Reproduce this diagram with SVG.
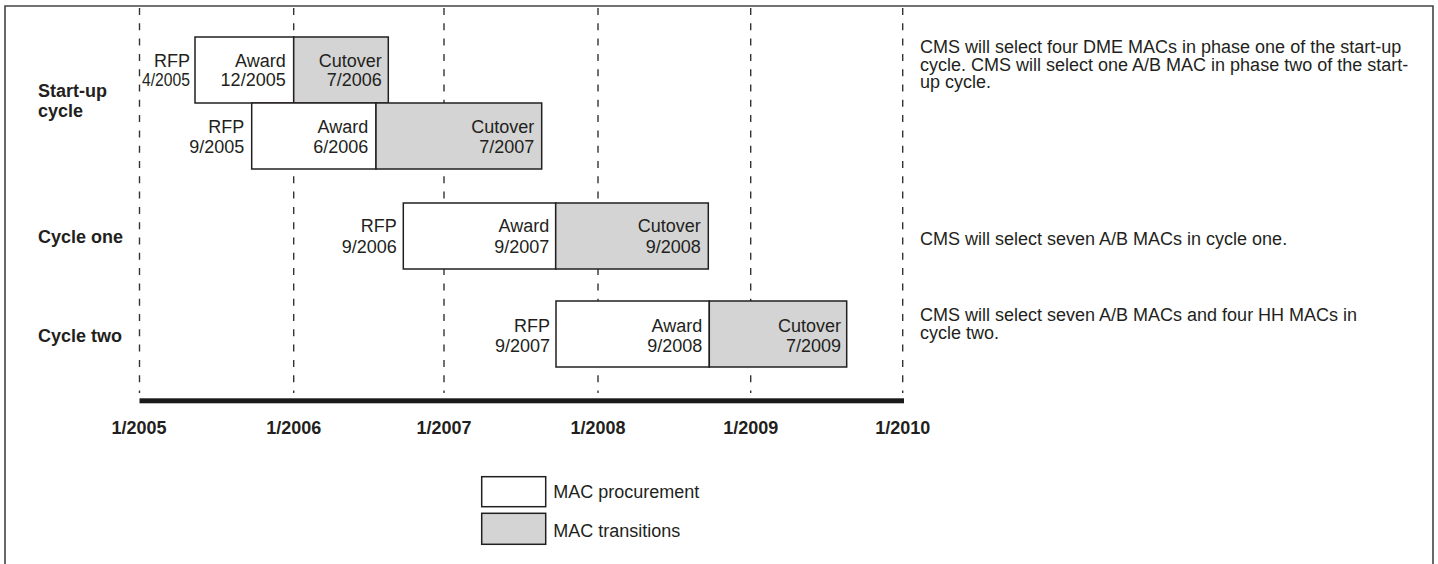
<svg xmlns="http://www.w3.org/2000/svg" width="1438" height="564" viewBox="0 0 1438 564">
<style>
text{font-family:"Liberation Sans",Arial,Helvetica,sans-serif;fill:#231f20;font-size:18px}
.b{font-weight:bold}
.r{text-anchor:end}
.m{text-anchor:middle}
.proc{fill:#fff;stroke:#231f20;stroke-width:1.5}
.tran{fill:#d4d4d4;stroke:#231f20;stroke-width:1.5}
.grid{stroke:#333;stroke-width:1.4;stroke-dasharray:7 8.3;fill:none}
</style>
<rect width="1438" height="564" fill="#fff"/>
<path d="M5,570 V6 H1433 V570" fill="none" stroke="#444" stroke-width="1.6"/>
<g id="gridlines">
<line class="grid" x1="139.5" y1="8" x2="139.5" y2="393"/>
<line class="grid" x1="293.7" y1="8" x2="293.7" y2="393"/>
<line class="grid" x1="444" y1="8" x2="444" y2="393"/>
<line class="grid" x1="598" y1="8" x2="598" y2="393"/>
<line class="grid" x1="750.7" y1="8" x2="750.7" y2="393"/>
<line class="grid" x1="902.7" y1="8" x2="902.7" y2="393"/>
</g>
<g id="connectors"></g>
<g id="axis">
<rect x="139.5" y="398.3" width="764.5" height="5" fill="#1a1a1a"/>
<text class="b m" x="139" y="434">1/2005</text>
<text class="b m" x="293.7" y="434">1/2006</text>
<text class="b m" x="444" y="434">1/2007</text>
<text class="b m" x="598" y="434">1/2008</text>
<text class="b m" x="750.7" y="434">1/2009</text>
<text class="b m" x="902.7" y="434">1/2010</text>
</g>
<g id="row-labels">
<text class="b" x="38" y="96.7">Start-up</text>
<text class="b" x="38" y="116.7">cycle</text>
<text class="b" x="38" y="243.3">Cycle one</text>
<text class="b" x="38" y="342.3">Cycle two</text>
</g>
<g id="startup-phase1">
<rect class="proc" x="195" y="37" width="98.7" height="66"/>
<rect class="tran" x="293.7" y="37" width="94.6" height="66"/>
<text class="r" x="190" y="66.5">RFP</text>
<text class="r" x="190" y="86" textLength="48" lengthAdjust="spacingAndGlyphs">4/2005</text>
<text class="r" x="285.7" y="66.5">Award</text>
<text class="r" x="285.7" y="86">12/2005</text>
<text class="r" x="381.7" y="66.5">Cutover</text>
<text class="r" x="381.7" y="86">7/2006</text>
</g>
<g id="startup-phase2">
<rect class="proc" x="251.7" y="103" width="124.3" height="66"/>
<rect class="tran" x="376" y="103" width="165.7" height="66"/>
<text class="r" x="244.3" y="133">RFP</text>
<text class="r" x="244.3" y="153">9/2005</text>
<text class="r" x="368.3" y="133">Award</text>
<text class="r" x="368.3" y="153">6/2006</text>
<text class="r" x="534.3" y="133">Cutover</text>
<text class="r" x="534.3" y="153">7/2007</text>
</g>
<g id="cycle-one">
<rect class="proc" x="403.3" y="203" width="152.4" height="66"/>
<rect class="tran" x="555.7" y="203" width="152.6" height="66"/>
<text class="r" x="396.7" y="232">RFP</text>
<text class="r" x="396.7" y="252.5">9/2006</text>
<text class="r" x="549.3" y="232">Award</text>
<text class="r" x="549.3" y="252.5">9/2007</text>
<text class="r" x="700.7" y="232">Cutover</text>
<text class="r" x="700.7" y="252.5">9/2008</text>
</g>
<g id="cycle-two">
<rect class="proc" x="556" y="301" width="153.3" height="66"/>
<rect class="tran" x="709.3" y="301" width="137.4" height="66"/>
<text class="r" x="550" y="331.5">RFP</text>
<text class="r" x="550" y="352">9/2007</text>
<text class="r" x="702.3" y="331.5">Award</text>
<text class="r" x="702.3" y="352">9/2008</text>
<text class="r" x="841" y="331.5">Cutover</text>
<text class="r" x="841" y="352">7/2009</text>
</g>
<g id="notes">
<text x="920" y="53">CMS will select four DME MACs in phase one of the start-up</text>
<text x="920" y="70.5">cycle. CMS will select one A/B MAC in phase two of the start-</text>
<text x="920" y="88">up cycle.</text>
<text x="920" y="245">CMS will select seven A/B MACs in cycle one.</text>
<text x="920" y="321">CMS will select seven A/B MACs and four HH MACs in</text>
<text x="920" y="339">cycle two.</text>
</g>
<g id="legend">
<rect class="proc" x="481.7" y="476.7" width="64" height="30"/>
<rect class="tran" x="481.7" y="513.3" width="64" height="31"/>
<text x="553.3" y="498.3">MAC procurement</text>
<text x="553.3" y="536.7">MAC transitions</text>
</g>
</svg>
